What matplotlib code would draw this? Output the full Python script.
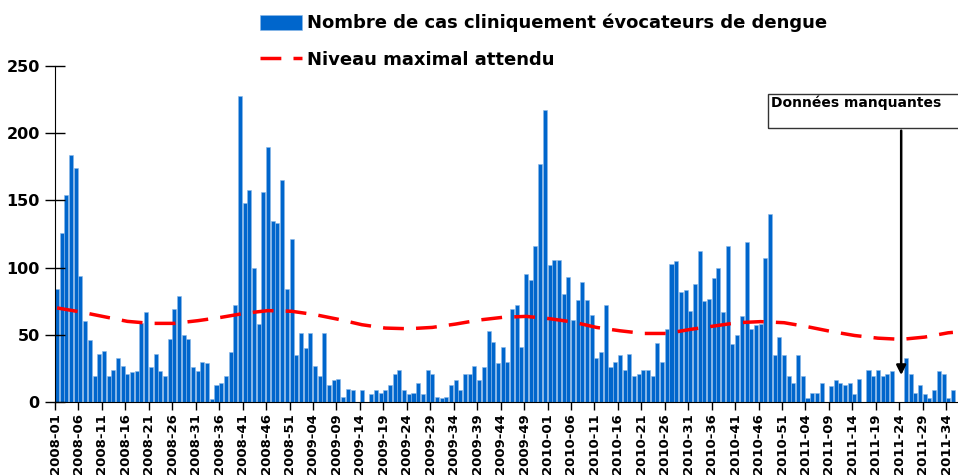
import matplotlib
matplotlib.use("Agg")
import matplotlib.pyplot as plt
from matplotlib.patches import Patch, Rectangle
from matplotlib.lines import Line2D
import numpy as np

# weeks: 2008 (52), 2009 (53), 2010 (52), 2011 up to week 35
years = [2008, 2009, 2010, 2011]
weeks_per_year = [52, 53, 52, 35]
week_labels = []
for yr, n in zip(years, weeks_per_year):
    for w in range(1, n + 1):
        week_labels.append("%d-%02d" % (yr, w))

# weekly counts (nan = missing data)
cases_2008 = [84, 126, 154, 184, 174, 94, 60, 46, 19, 36,
              38, 19, 24, 33, 27, 21, 22, 23, 59, 67,
              26, 36, 23, 19, 47, 69, 79, 50, 47, 26,
              23, 30, 29, 2, 13, 14, 19, 37, 72, 228,
              148, 158, 100, 58, 156, 190, 135, 133, 165, 84,
              121, 35]
cases_2009 = [51, 40, 51, 27, 19, 51, 13, 16, 17, 4,
              10, 9, 0, 9, 0, 6, 9, 7, 9, 13,
              21, 24, 9, 6, 7, 14, 6, 24, 21, 4,
              3, 4, 13, 16, 9, 21, 21, 27, 16, 26,
              53, 45, 29, 41, 30, 69, 72, 41, 95, 91,
              116, 177, 217]
cases_2010 = [102, 106, 106, 80, 93, 61, 76, 89, 76, 65,
              33, 37, 72, 26, 30, 35, 24, 36, 19, 21,
              24, 24, 19, 44, 30, 54, 103, 105, 82, 83,
              68, 88, 112, 75, 77, 92, 100, 67, 116, 43,
              50, 64, 119, 54, 57, 58, 107, 140, 35, 48,
              35, 19]
cases_2011 = [14, 35, 19, 3, 7, 7, 14, 0, 12, 16,
              14, 13, 14, 6, 17, 0, 24, 19, 24, 19,
              21, 23, np.nan, np.nan, 33, 21, 7, 13, 6, 3,
              9, 23, 21, 3, 9]
cases = cases_2008 + cases_2009 + cases_2010 + cases_2011

# expected maximum level, read every 5 weeks
seuil_weeks = ["2008-01", "2008-06", "2008-11", "2008-16", "2008-21", "2008-26",
               "2008-31", "2008-36", "2008-41", "2008-46", "2008-51", "2009-04",
               "2009-09", "2009-14", "2009-19", "2009-24", "2009-29", "2009-34",
               "2009-39", "2009-44", "2009-49", "2010-01", "2010-06", "2010-11",
               "2010-16", "2010-21", "2010-26", "2010-31", "2010-36", "2010-41",
               "2010-46", "2010-51", "2011-04", "2011-09", "2011-14", "2011-19",
               "2011-24", "2011-29", "2011-34", "2011-35"]
seuil = [70, 67, 63.5, 60, 58.5, 58.5, 60.5, 63, 66, 68,
         67.5, 65, 61.5, 57.5, 55, 54.5, 55.5, 58, 61, 63,
         63.7, 62, 59.5, 55.5, 53, 51, 51, 54, 56.5, 59,
         59.8, 59, 56, 52.5, 49.5, 47.5, 46.6, 48.3, 51.5, 51.8]

missing_week = "2011-24"

plt.rcParams["font.family"] = ["DejaVu Sans"]
plt.rcParams["font.weight"] = "bold"

fig = plt.figure(figsize=(9.58, 4.75), dpi=100)
ax = fig.add_axes([55 / 958, 1 - 402 / 475, 902 / 958, 336 / 475])

x = np.arange(len(cases))
ax.bar(x, np.nan_to_num(cases), width=0.86, align="edge", color="#0066CC",
       edgecolor="#8ab8e8", linewidth=0.4)

dash = (0, (6, 3.5))
xs = [week_labels.index(w) + 0.43 for w in seuil_weeks]
ax.plot(xs, seuil, color="red", lw=2.5, linestyle=dash)

ax.set_xlim(0, 192.3)
ax.set_ylim(0, 250)
ax.set_yticks(np.arange(0, 251, 50))
ax.set_xticks(x[::5])
ax.set_xticklabels(week_labels[::5], rotation=90, fontsize=9.5, fontweight="bold")
ax.tick_params(axis="y", direction="inout", length=14, width=1, labelsize=11.5, pad=4)
ax.tick_params(axis="x", direction="out", length=6, width=1, pad=2)
for s in ["top", "right"]:
    ax.spines[s].set_visible(False)
ax.spines["left"].set_bounds(0, 250)

handles = [Patch(facecolor="#0066CC", edgecolor="#8ab8e8", linewidth=0.4),
           Line2D([0], [0], color="red", lw=2.5, linestyle=dash)]
fig.legend(handles, ["Nombre de cas cliniquement évocateurs de dengue", "Niveau maximal attendu"],
           loc="upper left", bbox_to_anchor=(260 / 958, 1 - 14 / 475), frameon=False,
           prop={"size": 13, "weight": "bold"}, handlelength=2.33, handleheight=0.9,
           handletextpad=0.28, labelspacing=1.0, borderpad=0, borderaxespad=0)

# missing data annotation
fig.patches.append(Rectangle((768 / 958, 1 - 128 / 475), 200 / 958, 34 / 475,
                             transform=fig.transFigure, fill=False,
                             edgecolor="#333333", lw=1))
fig.text(771 / 958, 1 - 103 / 475, "Données manquantes", fontsize=10,
         fontweight="bold", va="center", ha="left")
xm = week_labels.index(missing_week) + 0.4
ax.annotate("", xy=(xm, 18), xytext=(xm, 204), annotation_clip=False,
            arrowprops=dict(arrowstyle="-|>", color="black", lw=1.8,
                            mutation_scale=14))

fig.savefig("out.png", dpi=100)
